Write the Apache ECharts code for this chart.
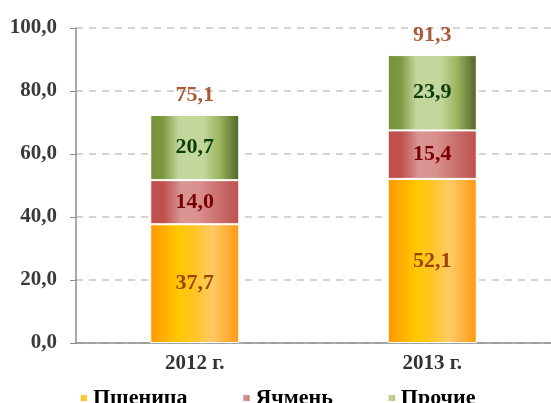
<!DOCTYPE html>
<html>
<head>
<meta charset="utf-8">
<script src="https://cdn.jsdelivr.net/npm/echarts@6/dist/echarts.min.js"></script>
<style>
  html, body { margin: 0; padding: 0; background: #fff; }
  #chart { width: 551px; height: 403px; }
</style>
</head>
<body>
<div id="chart"></div>
<script>
var years = ['2012 г.', '2013 г.'];
var wheat = [37.7, 52.1];   // Пшеница
var barley = [14.0, 15.4];  // Ячмень
var other = [20.7, 23.9];   // Прочие
var totals = [75.1, 91.3];  // подписи сверху

var font = 'Liberation Serif';

function grad(stops) {
    return new echarts.graphic.LinearGradient(0, 0, 1, 0, stops.map(function (s) {
        return {offset: s[0], color: s[1]};
    }));
}
var wheatColor = grad([[0, '#ff9600'], [0.32, '#ffc800'], [0.5, '#ffc526'], [0.7, '#ffca66'], [1, '#ff9a10']]);
var barleyColor = grad([[0, '#c0504d'], [0.15, '#c0504d'], [0.35, '#d99694'], [0.55, '#d98f8d'], [0.78, '#c86e6c'], [1, '#c0504d']]);
var otherColor = grad([[0, '#77933c'], [0.14, '#7b973f'], [0.32, '#c3d69b'], [0.6, '#c3d69b'], [0.78, '#9bb45c'], [1, '#4f6228']]);

function fmt(v) { return v.toFixed(1).replace('.', ','); }

function barSeries(name, data, color, labelColor) {
    return {
        name: name,
        type: 'bar',
        stack: 'all',
        barWidth: 89,
        data: data,
        itemStyle: {color: color, borderColor: '#fff', borderWidth: 1},
        label: {
            show: true,
            position: 'inside',
            formatter: function (p) { return fmt(p.value); },
            color: labelColor,
            fontFamily: font,
            fontWeight: 'bold',
            fontSize: 22
        }
    };
}

var chart = echarts.init(document.getElementById('chart'), null, {renderer: 'canvas'});
var option = {
    animation: false,
    backgroundColor: '#fff',
    grid: {left: 76, right: 0, top: 28, bottom: 60},
    legend: {
        data: ['Пшеница', 'Ячмень', 'Прочие'],
        left: 74,
        top: 382,
        icon: 'rect',
        itemWidth: 8,
        itemHeight: 8,
        itemGap: 54,
        textStyle: {fontFamily: font, fontWeight: 'bold', fontSize: 22, color: '#000'}
    },
    xAxis: {
        type: 'category',
        data: years,
        axisLine: {lineStyle: {color: '#8c8c8c', width: 1.5}},
        axisTick: {length: 6, lineStyle: {color: '#8c8c8c'}},
        axisLabel: {margin: 10, color: '#333', fontFamily: font, fontWeight: 'bold', fontSize: 21}
    },
    yAxis: {
        type: 'value',
        min: 0,
        max: 100,
        interval: 20,
        axisLine: {show: true, lineStyle: {color: '#8c8c8c', width: 1.5}},
        axisTick: {show: true, length: 6, lineStyle: {color: '#8c8c8c'}},
        splitLine: {lineStyle: {color: '#d4d4d4', width: 2, type: [7, 6]}},
        axisLabel: {
            margin: 19,
            color: '#3a3a3a',
            fontFamily: font,
            fontWeight: 'bold',
            fontSize: 21,
            formatter: function (v) { return fmt(v); }
        }
    },
    series: [
        barSeries('Пшеница', wheat, wheatColor, '#9c4500'),
        barSeries('Ячмень', barley, barleyColor, '#7a0000'),
        barSeries('Прочие', other, otherColor, '#0b3d0b'),
        {
            name: 'Итого',
            type: 'scatter',
            symbolSize: 0,
            data: years.map(function (y, i) { return wheat[i] + barley[i] + other[i]; }),
            label: {
                show: true,
                position: 'inside',
                offset: [0, -20],
                formatter: function (p) { return fmt(totals[p.dataIndex]); },
                color: '#953204',
                fontFamily: font,
                fontWeight: 'bold',
                fontSize: 22
            }
        }
    ]
};
chart.setOption(option);
</script>
</body>
</html>
